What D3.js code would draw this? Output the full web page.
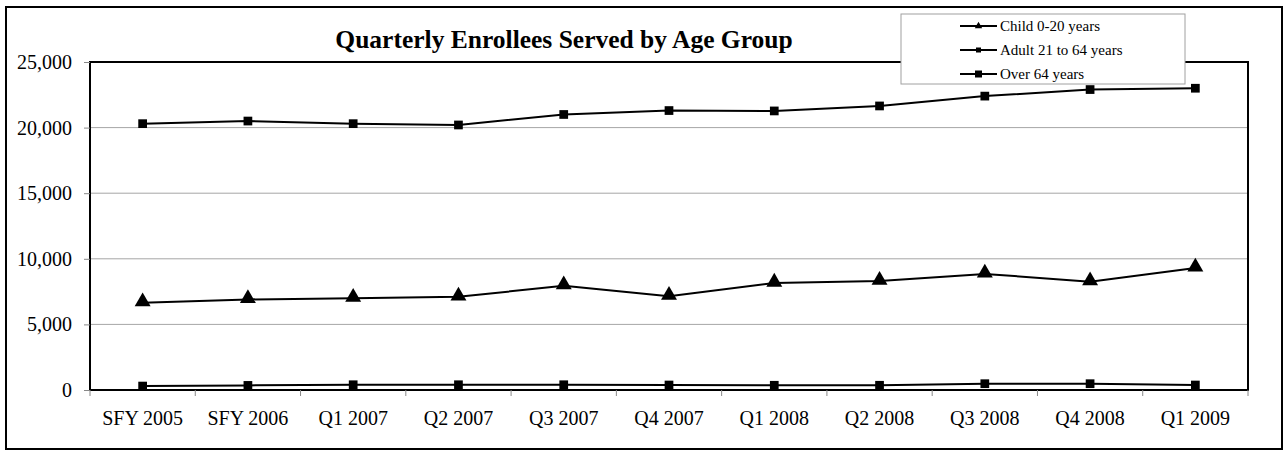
<!DOCTYPE html>
<html>
<head>
<meta charset="utf-8">
<script src="https://cdn.jsdelivr.net/npm/d3@7"></script>
<style>
  html, body { margin: 0; padding: 0; background: #fff; }
  svg { display: block; }
  text { font-family: "Liberation Serif", "Times New Roman", serif; fill: #000; }
</style>
</head>
<body>
<svg id="chart" width="1288" height="452"></svg>
<script>
const categories = ["SFY 2005","SFY 2006","Q1 2007","Q2 2007","Q3 2007","Q4 2007","Q1 2008","Q2 2008","Q3 2008","Q4 2008","Q1 2009"];
const child = [6650, 6900, 7000, 7100, 7950, 7150, 8150, 8300, 8850, 8250, 9300];
const adult = [20300, 20500, 20300, 20200, 21000, 21300, 21270, 21650, 22400, 22900, 23000];
const over64 = [300, 350, 400, 400, 400, 380, 360, 360, 480, 480, 380];
const yTicks = [0, 5000, 10000, 15000, 20000, 25000];
const seriesNames = ["Child 0-20 years", "Adult 21 to 64 years", "Over 64 years"];
const title = "Quarterly Enrollees Served by Age Group";

const svg = d3.select("#chart");
const plot = {left: 90, right: 1248, top: 62, bottom: 390};

// outer border
svg.append("rect").attr("x", 6).attr("y", 7).attr("width", 1276).attr("height", 442)
  .attr("fill", "#fff").attr("stroke", "#000").attr("stroke-width", 2);

const x = d3.scaleBand().domain(categories).range([plot.left, plot.right]);
const cx = c => x(c) + x.bandwidth() / 2;
const y = d3.scaleLinear().domain([0, 25000]).range([plot.bottom, plot.top]);

// gridlines
svg.append("g").selectAll("line").data(yTicks.filter(t => t > 0 && t < 25000)).join("line")
  .attr("x1", plot.left).attr("x2", plot.right)
  .attr("y1", d => y(d)).attr("y2", d => y(d))
  .attr("stroke", "#a6a6a6").attr("stroke-width", 1);

// plot border
svg.append("rect").attr("x", plot.left).attr("y", plot.top)
  .attr("width", plot.right - plot.left).attr("height", plot.bottom - plot.top)
  .attr("fill", "none").attr("stroke", "#000").attr("stroke-width", 2);

// y axis
const yAxis = d3.axisLeft(y).tickValues(yTicks).tickFormat(d3.format(",")).tickSize(6).tickPadding(12);
const gy = svg.append("g").attr("transform", `translate(${plot.left},0)`).call(yAxis);
gy.select(".domain").remove();
gy.selectAll(".tick line").attr("stroke", "#888");
gy.selectAll(".tick text").attr("font-size", 20).attr("fill", "#000");

// x axis ticks at band boundaries
const bounds = categories.map(c => x(c)).concat([plot.right]);
svg.append("g").selectAll("line").data(bounds).join("line")
  .attr("x1", d => d).attr("x2", d => d)
  .attr("y1", plot.bottom).attr("y2", plot.bottom + 6)
  .attr("stroke", "#888").attr("stroke-width", 1);
svg.append("g").selectAll("text").data(categories).join("text")
  .attr("x", d => cx(d)).attr("y", 425)
  .attr("text-anchor", "middle").attr("font-size", 20)
  .text(d => d);

// series
const series = [
  {name: seriesNames[0], values: child, sym: d3.symbolTriangle, size: 110, lsize: 24},
  {name: seriesNames[1], values: adult, sym: d3.symbolSquare, size: 76, lsize: 25},
  {name: seriesNames[2], values: over64, sym: d3.symbolSquare, size: 76, lsize: 49}
];
const line = d3.line().x((d, i) => cx(categories[i])).y(d => y(d));
series.forEach(s => {
  svg.append("path").datum(s.values).attr("d", line)
    .attr("fill", "none").attr("stroke", "#000").attr("stroke-width", 2);
  svg.append("g").selectAll("path").data(s.values).join("path")
    .attr("transform", (d, i) => `translate(${cx(categories[i])},${y(d) + (s.sym === d3.symbolTriangle ? -1 : 0)})`)
    .attr("d", d3.symbol().type(s.sym).size(s.size)).attr("fill", "#000");
});

// title
svg.append("text").attr("x", 564).attr("y", 48).attr("text-anchor", "middle")
  .attr("font-size", 25.5).attr("font-weight", "bold").text(title);

// legend
const lg = svg.append("g");
lg.append("rect").attr("x", 901).attr("y", 14).attr("width", 284).attr("height", 70)
  .attr("fill", "#fff").attr("stroke", "#a0a0a0").attr("stroke-width", 1);
series.forEach((s, i) => {
  const ly = 26 + i * 24;
  lg.append("line").attr("x1", 960).attr("x2", 997).attr("y1", ly).attr("y2", ly)
    .attr("stroke", "#000").attr("stroke-width", 2);
  lg.append("path").attr("transform", `translate(978.5,${ly})`)
    .attr("d", d3.symbol().type(s.sym).size(s.lsize)).attr("fill", "#000");
  lg.append("text").attr("x", 1000).attr("y", ly + 5).attr("font-size", 15).text(s.name);
});
</script>
</body>
</html>
